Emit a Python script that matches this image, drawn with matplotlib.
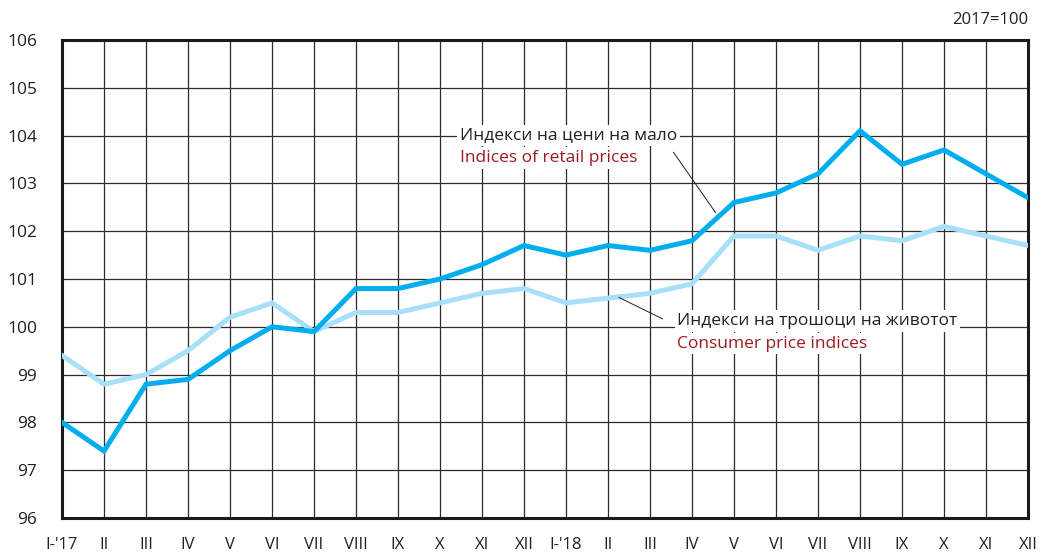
import matplotlib
matplotlib.use("Agg")
import matplotlib.pyplot as plt

plt.rcParams['font.family'] = ['Open Sans', 'DejaVu Sans']

# months Jan 2017 - Dec 2018
months = ["I-'17", 'II', 'III', 'IV', 'V', 'VI', 'VII', 'VIII', 'IX', 'X', 'XI', 'XII',
          "I-'18", 'II', 'III', 'IV', 'V', 'VI', 'VII', 'VIII', 'IX', 'X', 'XI', 'XII']

# retail prices index
retail = [98.0, 97.4, 98.8, 98.9, 99.5, 100.0, 99.9, 100.8, 100.8, 101.0, 101.3, 101.7,
          101.5, 101.7, 101.6, 101.8, 102.6, 102.8, 103.2, 104.1, 103.4, 103.7, 103.2, 102.7]

# consumer price index
consumer = [99.4, 98.8, 99.0, 99.5, 100.2, 100.5, 99.9, 100.3, 100.3, 100.5, 100.7, 100.8,
            100.5, 100.6, 100.7, 100.9, 101.9, 101.9, 101.6, 101.9, 101.8, 102.1, 101.9, 101.7]

yticks = list(range(96, 107))

dark_blue = '#00aeef'
light_blue = '#a9e0f9'
red = '#9e1b20'
ink = '#231f20'

fig = plt.figure(figsize=(10.41, 5.56), dpi=100)
ax = fig.add_axes([62 / 1041, 38 / 556, 966 / 1041, 478 / 556])

x = list(range(len(months)))
ax.plot(x, consumer, color=light_blue, lw=3.6, solid_joinstyle='miter', zorder=3)
ax.plot(x, retail, color=dark_blue, lw=3.6, solid_joinstyle='miter', zorder=4)

ax.set_xlim(0, len(months) - 1)
ax.set_ylim(96, 106)
ax.set_xticks(x)
ax.set_xticklabels(months, fontsize=12, color=ink)
ax.set_yticks(yticks)
ax.set_yticklabels([str(v) for v in yticks], fontsize=12.5, color=ink)
ax.tick_params(axis='x', length=0, pad=14)
ax.tick_params(axis='y', length=0, pad=18)
ax.grid(True, color='#2b2b2b', lw=0.9)
ax.set_axisbelow(True)
for s in ax.spines.values():
    s.set_linewidth(2.2)
    s.set_color('#1a1a1a')

fig.text(1028 / 1041, 1 - 20 / 556, '2017=100', ha='right', va='center', fontsize=12, color=ink)

# retail label
box = dict(facecolor='white', edgecolor='none', pad=2)
ax.annotate('', xy=(15.6, 102.34), xytext=(14.52, 103.7),
            arrowprops=dict(arrowstyle='-', color=ink, lw=0.7), zorder=5)
ax.text(9.48, 104.0, 'Индекси на цени на мало', fontsize=12.5, color=ink,
        va='center', ha='left', bbox=box, zorder=6)
ax.text(9.48, 103.53, 'Indices of retail prices', fontsize=12.5, color=red,
        va='center', ha='left', bbox=box, zorder=6)

# consumer label
ax.annotate('', xy=(13.2, 100.64), xytext=(14.36, 100.14),
            arrowprops=dict(arrowstyle='-', color=ink, lw=0.7), zorder=5)
ax.text(14.65, 100.12, 'Индекси на трошоци на животот', fontsize=12.5, color=ink,
        va='center', ha='left', bbox=box, zorder=6)
ax.text(14.65, 99.65, 'Consumer price indices', fontsize=12.5, color=red,
        va='center', ha='left', bbox=box, zorder=6)

fig.savefig('out.png', dpi=100)
